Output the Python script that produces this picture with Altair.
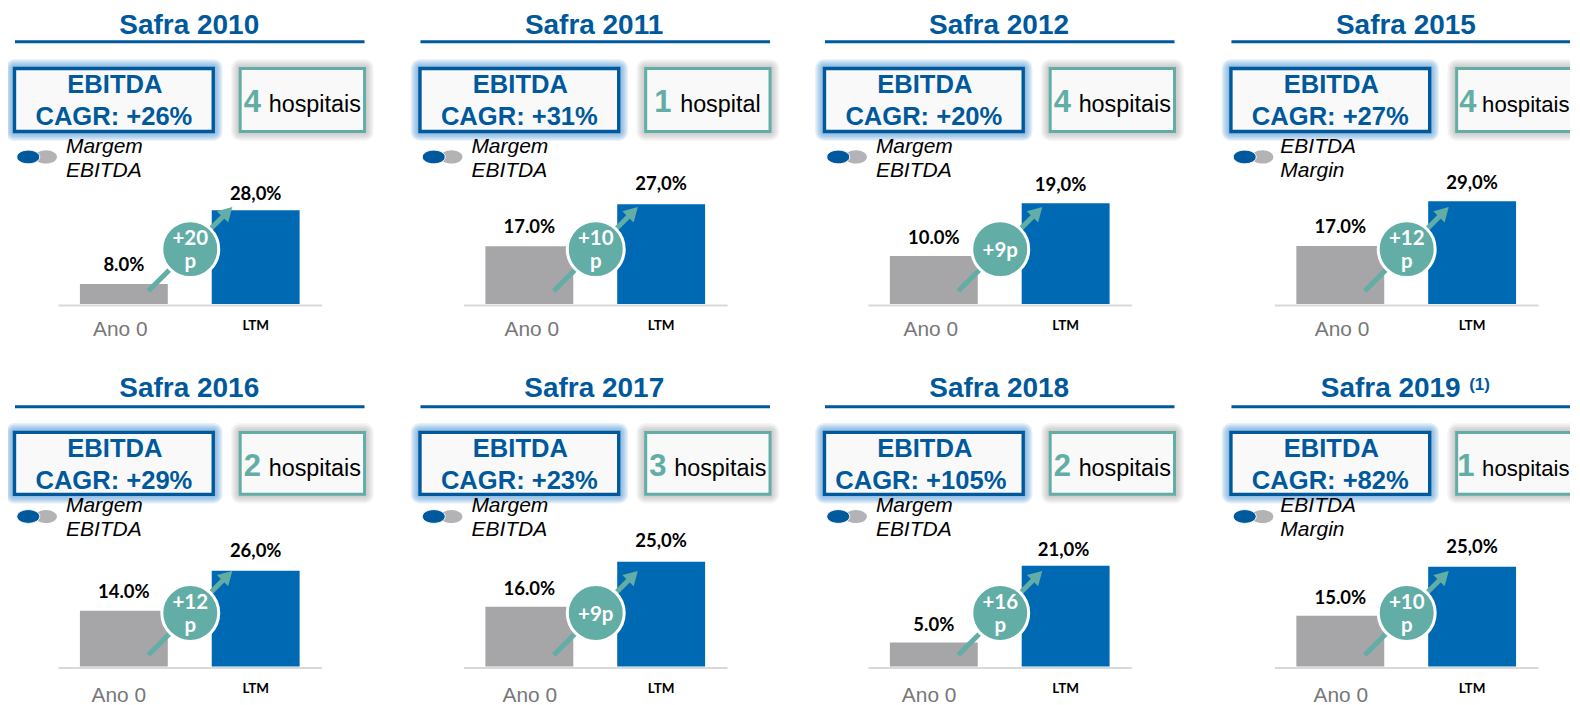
import altair as alt
import pandas as pd

# ---- chart content ----
titles = ["Safra 2010", "Safra 2011", "Safra 2012", "Safra 2015",
          "Safra 2016", "Safra 2017", "Safra 2018", "Safra 2019"]
cagr = ["+26%", "+31%", "+20%", "+27%", "+29%", "+23%", "+105%", "+82%"]
hosp_count = ["4", "1", "4", "4", "2", "3", "2", "1"]
hosp_word = ["hospitais", "hospital", "hospitais", "hospitais",
             "hospitais", "hospitais", "hospitais", "hospitais"]
legend_lines = [("Margem", "EBITDA")] * 3 + [("EBITDA", "Margin")] + \
               [("Margem", "EBITDA")] * 3 + [("EBITDA", "Margin")]
gain_lines = [("+20", "p"), ("+10", "p"), ("+9p",), ("+12", "p"),
              ("+12", "p"), ("+9p",), ("+16", "p"), ("+10", "p")]
categories = ["Ano 0", "LTM"]
base_values = [8, 17, 10, 17, 14, 16, 5, 15]
ltm_values = [28, 27, 19, 29, 26, 25, 21, 25]
base_labels = ["8.0%", "17.0%", "10.0%", "17.0%", "14.0%", "16.0%", "5.0%", "15.0%"]
ltm_labels = ["28,0%", "27,0%", "19,0%", "29,0%", "26,0%", "25,0%", "21,0%", "25,0%"]

# ---- layout ----
W = 391
H = 297
col_shift = [7, 22, 36, 52]
row_top = [8, 371]
row_gap = 66
# each small chart of the slide has its own value axis
y_domains = [(2.32, 82.59), (2.95, 73.67), (1.68, 52.10), (1.26, 80.46),
             (-3.1, 86.09), (3.8, 63.2), (-0.2, 61.55), (4.4, 65.01)]
base_gap = [13, 13, 12, 13, 13, 12, 12, 12]
ltm_gap = [10, 14, 12, 12, 14, 15, 10, 14]
ltm_dx = [0, 0, -5, 0, 0, 0, -2, 0]
ano_offset = [-3.5, 2.5, -3, 1.8, -5, 0.5, -4.7, 0.5]
digit_x = [229, 234, 229, 228, 229, 229, 229, 226]
word_x = [254, 260, 254, 251, 254, 254, 254, 251]
word_size = [23.4, 23.4, 23.4, 22.2, 23.4, 23.4, 23.4, 22.2]
title_x = [174.5, 173.8, 174.3, 174.7, 174.5, 174, 174.5, 159.5]

NAVY = "#00599c"
BLUE = "#0069b4"
TEAL = "#62ada6"
GRAY = "#a6a6a8"
ARIAL = "Liberation Sans"
CALIBRI = "Lato"
ELLIPSE = "M-1,0A1,0.6,0,1,1,1,0A1,0.6,0,1,1,-1,0Z"
ONE = pd.DataFrame({"a": [0]})


def txt(s, x, y, size, color, font=ARIAL, bold=False, italic=False, align="center"):
    return alt.Chart(ONE).mark_text(
        text=s, font=font, fontSize=size, color=color, align=align, baseline="alphabetic",
        fontWeight="bold" if bold else "normal", fontStyle="italic" if italic else "normal",
    ).encode(x=alt.value(x), y=alt.value(y))


def box(x, x2, y, y2, clip=False, **kw):
    return alt.Chart(ONE).mark_rect(clip=clip, **kw).encode(
        x=alt.value(x), x2=alt.value(x2), y=alt.value(y), y2=alt.value(y2))


def seg(x, x2, y, y2, color, w):
    return alt.Chart(ONE).mark_rule(color=color, strokeWidth=w).encode(
        x=alt.value(x), x2=alt.value(x2), y=alt.value(y), y2=alt.value(y2))


def sym(x, y, **kw):
    return alt.Chart(ONE).mark_point(filled=True, opacity=1, **kw).encode(
        x=alt.value(x), y=alt.value(y))


def panel(i):
    row = 0 if i < 4 else 1
    col = i % 4
    top = row_top[row]
    off = col_shift[col]
    X = lambda v: v + off
    Y = lambda v: v - top
    left_clip = col == 0
    right_clip = col == 3

    rule_y = 41.3 if row == 0 else 406.7
    box_t = 68.2 if row == 0 else 432.5
    box_b = 131.2 if row == 0 else 494.5
    layers = [
        txt(titles[i], X(title_x[i]), Y(33.3 if row == 0 else 396.7), 28, NAVY, bold=True),
        seg(X(0), min(X(350), W), Y(rule_y), Y(rule_y), NAVY, 3),
    ]
    if i == 7:
        layers.append(txt("(1)", X(238), Y(390.5), 17, NAVY, bold=True, align="left"))

    # glow + boxes
    for k in range(6, 0, -1):
        g = 1.5 + k * 1.3
        layers.append(box(X(-0.5 - g), X(198.5 + g), Y(box_t - g), Y(box_b + g), clip=left_clip,
                          fill="#4f94d4", opacity=0.14, cornerRadius=g))
    layers.append(box(X(-0.5), X(198.5), Y(box_t), Y(box_b), fill="#f9f9f9", stroke=NAVY, strokeWidth=3.4))
    right = X(350) if not right_clip else W + 30
    for k in range(6, 0, -1):
        g = 1.5 + k * 1.3
        layers.append(box(X(225.5 - g), right + g, Y(box_t - g), Y(box_b + g), clip=right_clip,
                          fill="#7f7f7f", opacity=0.07, cornerRadius=g))
    layers.append(box(X(225.5), right, Y(box_t), Y(box_b), clip=right_clip,
                      fill="#f9f9f9", stroke=TEAL, strokeWidth=3))

    t1 = 93 if row == 0 else 457
    t2 = 125 if row == 0 else 489
    layers += [
        txt("EBITDA", X(100), Y(t1), 25.6, NAVY, bold=True),
        txt("CAGR: " + cagr[i], X(99 if i != 6 else 96), Y(t2), 25.6, NAVY, bold=True),
    ]
    th = 111.7 if row == 0 else 476
    layers += [
        txt(hosp_count[i], X(digit_x[i]), Y(th), 31, TEAL, bold=True, align="left"),
        txt(hosp_word[i], X(word_x[i]), Y(th), word_size[i], "#000000", align="left"),
    ]

    # legend
    ly = 156.7 if row == 0 else 516.7
    l1 = 152.3 if row == 0 else 512.3
    l2 = 176.7 if row == 0 else 536.7
    lx = 49 if col == 3 else 51
    layers += [
        sym(X(31), Y(ly), shape=ELLIPSE, size=484, fill="#b3b3b5"),
        sym(X(13.3), Y(ly), shape=ELLIPSE, size=529, fill=NAVY, stroke="#ffffff", strokeWidth=1),
        txt(legend_lines[i][0], X(lx), Y(l1), 21, "#000000", italic=True, align="left"),
        txt(legend_lines[i][1], X(lx), Y(l2), 21, "#000000", italic=True, align="left"),
    ]

    # bars
    data = pd.DataFrame({
        "cat": categories,
        "value": [base_values[i], ltm_values[i]],
        "label": [base_labels[i], ltm_labels[i]],
    })
    x_enc = alt.X(
        "cat:N", sort=categories, title=None,
        scale=alt.Scale(domain=categories, range=[X(43), X(307)],
                        paddingInner=1 / 3, paddingOuter=1 / 6),
        axis=alt.Axis(
            ticks=False, grid=False, labelAngle=0, labelOverlap=False, labelFlush=False,
            domainColor="#d9d9d9", domainWidth=2, labelBaseline="alphabetic", zindex=0,
            labelFont={"condition": {"test": "datum.value == 'LTM'", "value": CALIBRI}, "value": ARIAL},
            labelFontSize={"condition": {"test": "datum.value == 'LTM'", "value": 13.5}, "value": 20.9},
            labelFontWeight={"condition": {"test": "datum.value == 'LTM'", "value": "bold"}, "value": "normal"},
            labelColor={"condition": {"test": "datum.value == 'LTM'", "value": "#000000"}, "value": "#777777"},
            labelOffset={"condition": {"test": "datum.value == 'LTM'", "value": 0}, "value": ano_offset[i]},
            labelPadding={"condition": {"test": "datum.value == 'LTM'", "value": 24 if row == 0 else 25},
                          "value": 30.5 if row == 0 else 34},
        ),
    )
    y_enc = alt.Y("value:Q", title=None, axis=None, stack=None,
                  scale=alt.Scale(domain=list(y_domains[i]), zero=False, nice=False))
    bars = alt.Chart(data).mark_bar().encode(
        x=x_enc, y=y_enc, y2=alt.value(H - 1),
        color=alt.Color("cat:N", legend=None,
                        scale=alt.Scale(domain=categories, range=[GRAY, BLUE])),
    )
    layers.append(bars)
    for j, cat in enumerate(categories):
        gap = base_gap[i] if j == 0 else ltm_gap[i]
        dx = 0 if j == 0 else ltm_dx[i]
        layers.append(
            alt.Chart(data).transform_filter(alt.datum.cat == cat).mark_text(
                font=CALIBRI, fontSize=18.5, fontWeight="bold", color="#000000",
                baseline="alphabetic", align="center", dy=-gap, dx=dx,
            ).encode(x=alt.X("cat:N", sort=categories), y="value:Q", text="label:N"))

    # arrow and circle
    cx = X(175.5)
    cy = Y(249 if row == 0 else 613.3)
    layers += [
        seg(cx - 42, cx + 36, cy + 42, cy - 36, TEAL, 5),
        sym(cx + 37.2, cy - 37.2, shape="triangle-up", angle=45, size=256, fill=TEAL),
        sym(cx, cy, shape="circle", size=3249, fill=TEAL, stroke="#ffffff", strokeWidth=3),
    ]
    lines = gain_lines[i]
    if len(lines) == 2:
        layers += [
            txt(lines[0], cx, cy - 4, 20.5, "#ffffff", font=CALIBRI, bold=True),
            txt(lines[1], cx, cy + 19, 20.5, "#ffffff", font=CALIBRI, bold=True),
        ]
    else:
        layers.append(txt(lines[0], cx, cy + 8, 20.5, "#ffffff", font=CALIBRI, bold=True))

    return alt.layer(*layers).properties(width=W, height=H)


chart = alt.concat(*[panel(i) for i in range(8)], columns=4,
                   spacing={"column": 0, "row": row_gap},
                   bounds="flush").properties(
    padding=0, background="#ffffff"
).configure_view(stroke=None)

chart.save("out.html", embed_options={"renderer": "svg", "actions": False})
